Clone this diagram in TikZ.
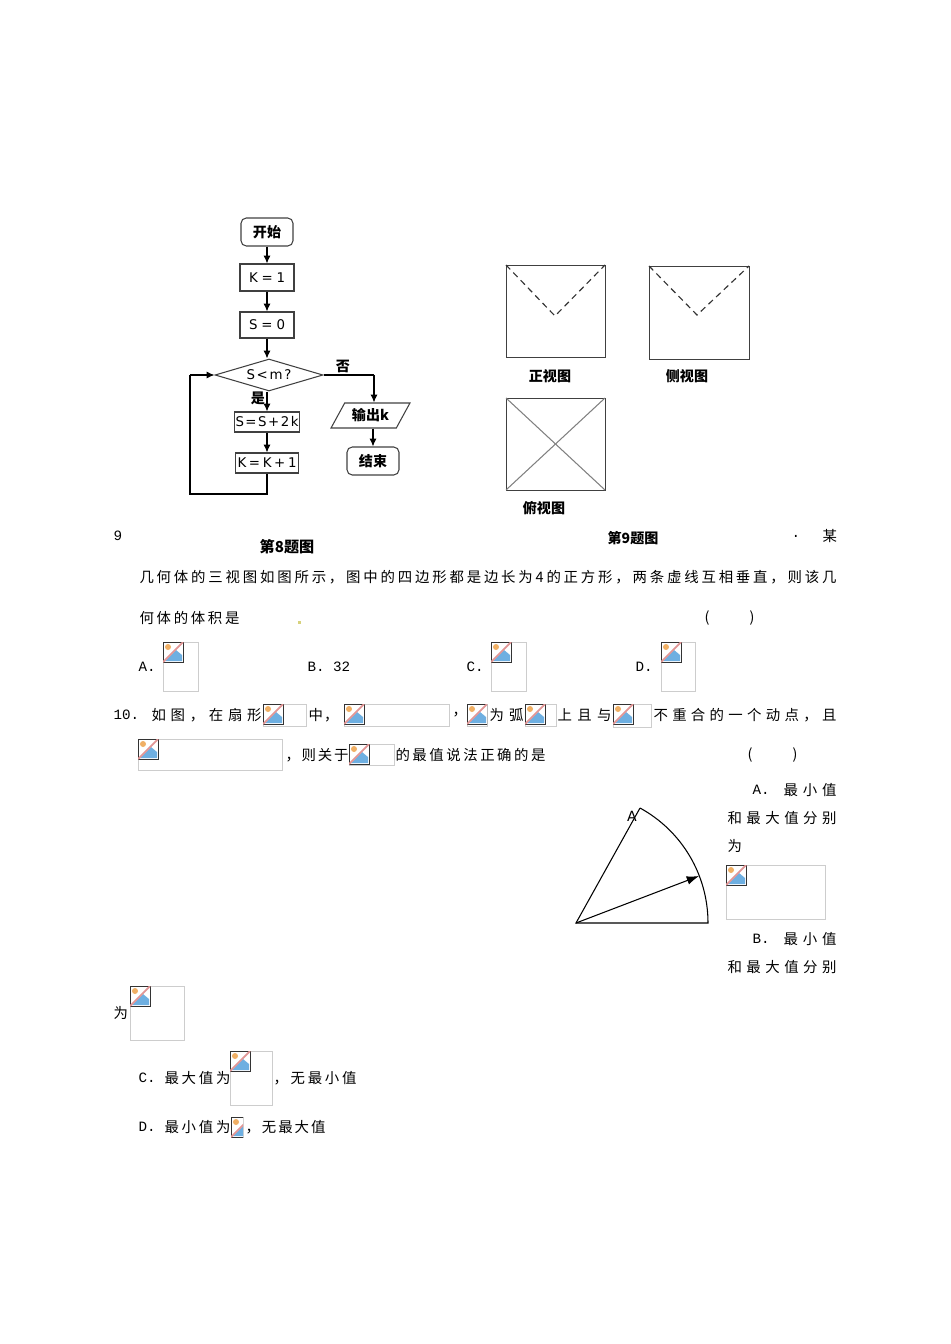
\documentclass[tikz,border=0pt]{standalone}
\usepackage{fontspec}
\setmainfont{Noto Sans CJK SC}
\newfontfamily\latfont{Liberation Mono}
\newfontfamily\flowfont{DejaVu Sans}
\usetikzlibrary{shapes,arrows.meta}
\newdimen\pxu \pxu=0.02cm
\def\zc{^^^^ff0c}
\def\spreadtxt#1#2{\hbox to #1\pxu{\spreadloop#2\relax}}
\def\spreadloop#1{#1\futurelet\next\spreadnext}
\def\spreadnext{\ifx\next\relax\let\go\spreadstop\else\hfil\let\go\spreadloop\fi\go}
\def\spreadstop\relax{}
\definecolor{framegray}{RGB}{205,205,205}
\definecolor{iconblue}{RGB}{110,175,225}
\definecolor{iconpink}{RGB}{225,150,150}
\definecolor{iconsun}{RGB}{240,175,100}
\tikzset{
    txt/.style={anchor=west, inner sep=0pt, font=\fontsize{8.2}{9}\selectfont},
    lat/.style={anchor=west, inner sep=0pt, font=\fontsize{8.1}{9}\selectfont\latfont},
    captxt/.style={inner sep=0pt, font=\fontsize{8}{9}\selectfont\bfseries},
    flowbox/.style={draw=black!75, inner sep=0pt, font=\fontsize{8}{9}\selectfont\bfseries},
    flowlat/.style={flowbox, font=\fontsize{7.6}{9}\selectfont\flowfont},
    arr/.style={-{Latex[length=4.5pt,width=4pt]}},
    dashline/.style={black!80, line width=0.65pt, dash pattern=on 3.5pt off 2.5pt},
    imgicon/.pic={
        \fill[white] (0,0) rectangle (20,20);
        \fill[iconblue] (2,19) -- (13,8) -- (19,13) -- (19,19) -- cycle;
        \fill[iconsun] (5,5) circle (3);
        \draw[black!80, line width=0.55pt] (0,0) rectangle (20,20);
        \draw[iconpink, line width=1pt] (0,20) -- (20,0);
    }
}
\begin{document}
\begin{tikzpicture}[x=0.02cm, y=-0.02cm, line width=0.6pt]
    \useasboundingbox (0,0) rectangle (950,1344);
    % flow chart
    \node[flowbox, rounded corners=3pt, minimum width=52\pxu, minimum height=28\pxu] (start) at (267,232) {开始};
    \node[flowlat, minimum width=54\pxu, minimum height=27\pxu] (k1) at (267,277.5) {\spreadtxt{36}{K=1}};
    \node[flowlat, minimum width=54\pxu, minimum height=26\pxu] (s0) at (267,325) {\spreadtxt{36}{S=0}};
    \node[flowlat, diamond, aspect=3.4, minimum width=108\pxu, minimum height=32\pxu] (cond) at (269,375) {\spreadtxt{45}{S<m?}};
    \node[flowlat, minimum width=65\pxu, minimum height=20\pxu] (s2k) at (267,422) {\spreadtxt{63}{S=S+2k}};
    \node[flowlat, minimum width=63\pxu, minimum height=20\pxu] (kk) at (267,463) {\spreadtxt{59}{K=K+1}};
    \node[flowbox, trapezium, trapezium left angle=54, trapezium right angle=126, minimum width=79\pxu, minimum height=25\pxu, trapezium stretches=true] (out) at (370.5,415.5) {输出k};
    \node[flowbox, rounded corners=3pt, minimum width=52\pxu, minimum height=28\pxu] (stop) at (373,461) {结束};
    \coordinate (loopa) at (267,494);
    \coordinate (loopb) at (190,494);
    \coordinate (loopc) at (190,375);
    \coordinate (outa) at (374,375);
    \draw[arr] (start) -- (k1);
    \draw[arr] (k1) -- (s0);
    \draw[arr] (s0) -- (s0 |- cond.north);
    \draw[arr] (s0 |- cond.south) -- (s2k);
    \draw[arr] (s2k) -- (kk);
    \draw (kk) -- (loopa) -- (loopb) -- (loopc);
    \draw[arr] (loopc) -- (cond.west);
    \draw (cond.east) -- (outa);
    \draw[arr] (outa) -- (outa |- out.north);
    \draw[arr] (stop.north |- out.south) -- (stop);
    \node[captxt] (no) at (343,366) {否};
    \node[captxt] (yes) at (258,398) {是};
    \node[captxt, font=\fontsize{8.6}{9}\selectfont\bfseries] (cap8) at (287,547) {第8题图};
    % three views
    \draw[black!75, line width=0.5pt] (506,265) rectangle (605,357);
    \draw[black!75, line width=0.5pt] (649,266) rectangle (749,359);
    \draw[black!75, line width=0.5pt] (506,398) rectangle (605,490);
    \draw[dashline] (506,265) -- (555,316) -- (605,265);
    \draw[dashline] (649,266) -- (697,315) -- (749,266);
    \draw[black!50] (506,398) -- (605,490);
    \draw[black!50] (605,398) -- (506,490);
    \node[captxt] (front) at (550,376) {正视图};
    \node[captxt] (side) at (687,376) {侧视图};
    \node[captxt] (top) at (544,508) {俯视图};
    \node[captxt] (cap9) at (633,538) {第9题图};
    % question 9
    \node[lat] (q9) at (113,536) {9};
    \node[lat] (q9a) at (791,536) {.};
    \node[txt] (q9b) at (822,536) {某};
    \node[txt] (l1) at (139,577) {\spreadtxt{697}{几何体的三视图如图所示\zc 图中的四边形都是边长为4的正方形\zc 两条虚线互相垂直\zc 则该几}};
    \node[txt] (l2) at (139,618) {\spreadtxt{100}{何体的体积是}};
    \node[txt] (br1) at (704,618) {\spreadtxt{50}{()}};
    \fill[black!30!yellow!60!white] (297.5,621) rectangle (301,624);
    \node[lat] (a9) at (138,667) {A.};
    \node[lat] (b9) at (307,667) {B. 32};
    \node[lat] (c9) at (466,667) {C.};
    \node[lat] (d9) at (635,667) {D.};
    % question 10
    \node[lat] (q10) at (113,715) {10.};
    \node[txt] (m1) at (151,715) {\spreadtxt{110}{如图\zc 在扇形}};
    \node[txt] (m2) at (308,715) {\spreadtxt{30}{中\zc}};
    \node[txt] (m3) at (452,715) {\zc};
    \node[txt] (m4) at (489,715) {\spreadtxt{34}{为弧}};
    \node[txt] (m5) at (557,715) {\spreadtxt{54}{上且与}};
    \node[txt] (m6) at (653,715) {\spreadtxt{183}{不重合的一个动点\zc 且}};
    \node[txt] (n1) at (285,755) {\spreadtxt{63}{\zc 则关于}};
    \node[txt] (n2) at (395,755) {\spreadtxt{150}{的最值说法正确的是}};
    \node[txt] (br2) at (747,755) {\spreadtxt{50}{()}};
    \node[lat] (a10) at (752,790) {A.};
    \node[txt] (a10a) at (783,790) {\spreadtxt{53}{最小值}};
    \node[txt] (a10b) at (727,818) {\spreadtxt{109}{和最大值分别}};
    \node[txt] (a10c) at (727,846) {为};
    \node[lat] (b10) at (752,939) {B.};
    \node[txt] (b10a) at (783,939) {\spreadtxt{53}{最小值}};
    \node[txt] (b10b) at (727,967) {\spreadtxt{109}{和最大值分别}};
    \node[txt] (b10c) at (113,1013) {为};
    \node[lat] (c10) at (138,1078) {C.};
    \node[txt] (c10a) at (164,1078) {\spreadtxt{66}{最大值为}};
    \node[txt] (c10b) at (273,1078) {\spreadtxt{83}{\zc 无最小值}};
    \node[lat] (d10) at (138,1127) {D.};
    \node[txt] (d10a) at (164,1127) {\spreadtxt{66}{最小值为}};
    \node[txt] (d10b) at (245,1127) {\spreadtxt{80}{\zc 无最大值}};
    % sector
    \coordinate (O) at (576,923);
    \coordinate (B) at (708,923);
    \coordinate (E) at (640,808);
    \coordinate (P) at (699,876);
    \draw (E) -- (O) -- (B) .. controls (708,875) and (682,831) .. (E);
    \draw[-{Latex[length=7pt,width=5pt]}] (O) -- (P);
    \node[inner sep=0pt, font=\fontsize{8}{9}\selectfont\flowfont] (Alab) at (632,816) {A};
    % picture frames
    \foreach \x/\y/\w/\h in {163/642/35/49, 491/642/35/49, 661/642/34/49,
        263/704/43/22, 344/704/105/22, 467/704/20/22, 525/704/31/22, 613/704/38/23,
        138/739/144/31, 349/744/45/21, 726/865/99/54, 130/986/54/54, 230/1051/42/54, 231/1117/12/20} {
        \draw[framegray, line width=0.4pt] (\x,\y) rectangle ++(\w,\h);
        \begin{scope}
            \clip (\x,\y) rectangle ++(\w,\h);
            \pic at (\x,\y) {imgicon};
        \end{scope}
    }
\end{tikzpicture}
\end{document}
